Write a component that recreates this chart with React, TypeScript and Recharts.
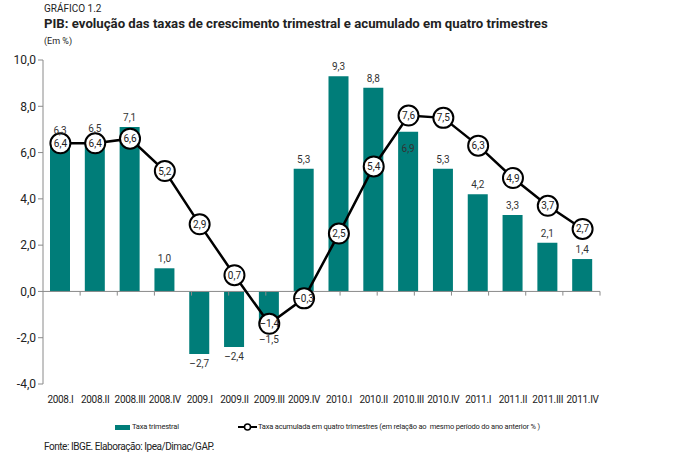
import React from 'react';
import { ComposedChart, Bar, Line, XAxis, YAxis, ReferenceLine, LabelList } from 'recharts';

const quarters = [
  '2008.I', '2008.II', '2008.III', '2008.IV',
  '2009.I', '2009.II', '2009.III', '2009.IV',
  '2010.I', '2010.II', '2010.III', '2010.IV',
  '2011.I', '2011.II', '2011.III', '2011.IV'
];
const taxaTrimestral = [6.3, 6.5, 7.1, 1.0, -2.7, -2.4, -1.5, 5.3, 9.3, 8.8, 6.9, 5.3, 4.2, 3.3, 2.1, 1.4];
const taxaAcumulada = [6.4, 6.4, 6.6, 5.2, 2.9, 0.7, -1.4, -0.3, 2.5, 5.4, 7.6, 7.5, 6.3, 4.9, 3.7, 2.7];
const yTicks = [-4, -2, 0, 2, 4, 6, 8, 10];
// small tick marks on the zero line, between the quarters
const boundaries = [1, 2, 3, 4, 5, 6, 7, 8, 9, 10, 11, 12, 13, 14, 15, 16];

const TEAL = '#007d79';
const FONT = 'Roboto, "Noto Sans", sans-serif';

const fmt = (v: number) => v.toFixed(1).replace('.', ',');
const fmtLabel = (v: number) => (v < 0 ? '\u2013' + fmt(-v) : fmt(v));

const data = quarters.map((q, i) => ({
  q,
  trim: taxaTrimestral[i],
  acum: taxaAcumulada[i]
}));

const BarValue = (props: any) => {
  const { value, index } = props;
  const vb = props.viewBox || props;
  const top = Math.min(vb.y, vb.y + vb.height);
  const bottom = Math.max(vb.y, vb.y + vb.height);
  const cx = vb.x + vb.width / 2;
  let ty: number;
  if (value < 0) ty = bottom + (index === 6 ? 17 : 13);
  else if (index === 10) ty = top + 20; // pushed inside, under the line marker
  else if (index === 0) ty = top - 12;
  else if (index === 1) ty = top - 9;
  else ty = top - 6;
  return (
    <text x={cx} y={ty} textAnchor="middle" fontSize={10} fill="#333" fontFamily={FONT}>
      {fmtLabel(value)}
    </text>
  );
};

const Marker = (props: any) => {
  const { cx, cy, payload } = props;
  if (cx == null || cy == null) return null;
  return (
    <g key={payload.q}>
      <circle cx={cx} cy={cy} r={10} fill="#fff" stroke="#000" strokeWidth={2} />
      <text x={cx} y={cy + 3.5} textAnchor="middle" fontSize={10} fill="#222" fontFamily={FONT}>
        {fmtLabel(payload.acum)}
      </text>
    </g>
  );
};

export default function App() {
  return (
    <div style={{ position: 'relative', width: 687, height: 460, background: '#fff', fontFamily: FONT, color: '#222' }}>
      <style>{'body{margin:0}'}</style>

      {/* Titles */}
      <div style={{ position: 'absolute', left: 44, top: 3, fontSize: 10, lineHeight: '12px' }}>GRÁFICO 1.2</div>
      <div style={{ position: 'absolute', left: 44, top: 16, fontSize: 13.2, fontWeight: 700, lineHeight: '16px', whiteSpace: 'nowrap' }}>
        PIB: evolução das taxas de crescimento trimestral e acumulado em quatro trimestres
      </div>
      <div style={{ position: 'absolute', left: 44, top: 35, fontSize: 9, lineHeight: '12px' }}>(Em %)</div>

      <div style={{ position: 'absolute', left: 0, top: 0 }}>
        <ComposedChart width={687} height={460} data={data} margin={{ top: 60, right: 87, bottom: 56, left: 0 }}>
          <XAxis
            dataKey="q"
            axisLine={false}
            tickLine={false}
            interval={0}
            height={20}
            tick={{ fontSize: 10, fill: '#222', fontFamily: FONT, letterSpacing: -0.3 }}
            tickMargin={6}
          />
          <XAxis xAxisId="b" type="number" domain={[0, 16]} hide allowDataOverflow />
          <YAxis
            domain={[-4, 10]}
            ticks={yTicks}
            width={43}
            tickFormatter={fmt}
            axisLine={{ stroke: '#8a8a8a' }}
            tickLine={{ stroke: '#8a8a8a' }}
            tickSize={5}
            tick={{ fontSize: 12, fill: '#222', fontFamily: FONT }}
          />
          <ReferenceLine y={0} stroke="#8a8a8a" strokeWidth={1} />
          {boundaries.map((b) => (
            <ReferenceLine
              key={b}
              xAxisId="b"
              segment={[{ x: b, y: 0 }, { x: b, y: -0.18 }]}
              stroke="#8a8a8a"
            />
          ))}
          <Bar dataKey="trim" fill={TEAL} barSize={20} isAnimationActive={false}>
            <LabelList dataKey="trim" content={BarValue} />
          </Bar>
          <Line
            dataKey="acum"
            stroke="#000"
            strokeWidth={2.5}
            dot={Marker}
            activeDot={false}
            isAnimationActive={false}
          />
        </ComposedChart>
      </div>

      {/* Legend */}
      <div style={{ position: 'absolute', left: 115, top: 422, fontSize: 7.5, lineHeight: '10px', display: 'flex', alignItems: 'center', whiteSpace: 'nowrap', letterSpacing: -0.2 }}>
        <span style={{ display: 'inline-block', width: 15, height: 5, background: TEAL, marginRight: 2 }} />
        Taxa trimestral
      </div>
      <div style={{ position: 'absolute', left: 238, top: 422, fontSize: 7.5, lineHeight: '10px', display: 'flex', alignItems: 'center', whiteSpace: 'nowrap', letterSpacing: -0.2 }}>
        <svg width={19} height={10} style={{ marginRight: 1 }}>
          <line x1={0} y1={5} x2={19} y2={5} stroke="#000" strokeWidth={2} />
          <circle cx={9.5} cy={5} r={3} fill="#fff" stroke="#000" strokeWidth={1.5} />
        </svg>
        Taxa acumulada em quatro trimestres (em relação ao&nbsp; mesmo período do ano anterior % )
      </div>

      <div style={{ position: 'absolute', left: 44, top: 440, fontSize: 10, lineHeight: '13px', letterSpacing: -0.45 }}>
        Fonte: IBGE. Elaboração: Ipea/Dimac/GAP.
      </div>
    </div>
  );
}
